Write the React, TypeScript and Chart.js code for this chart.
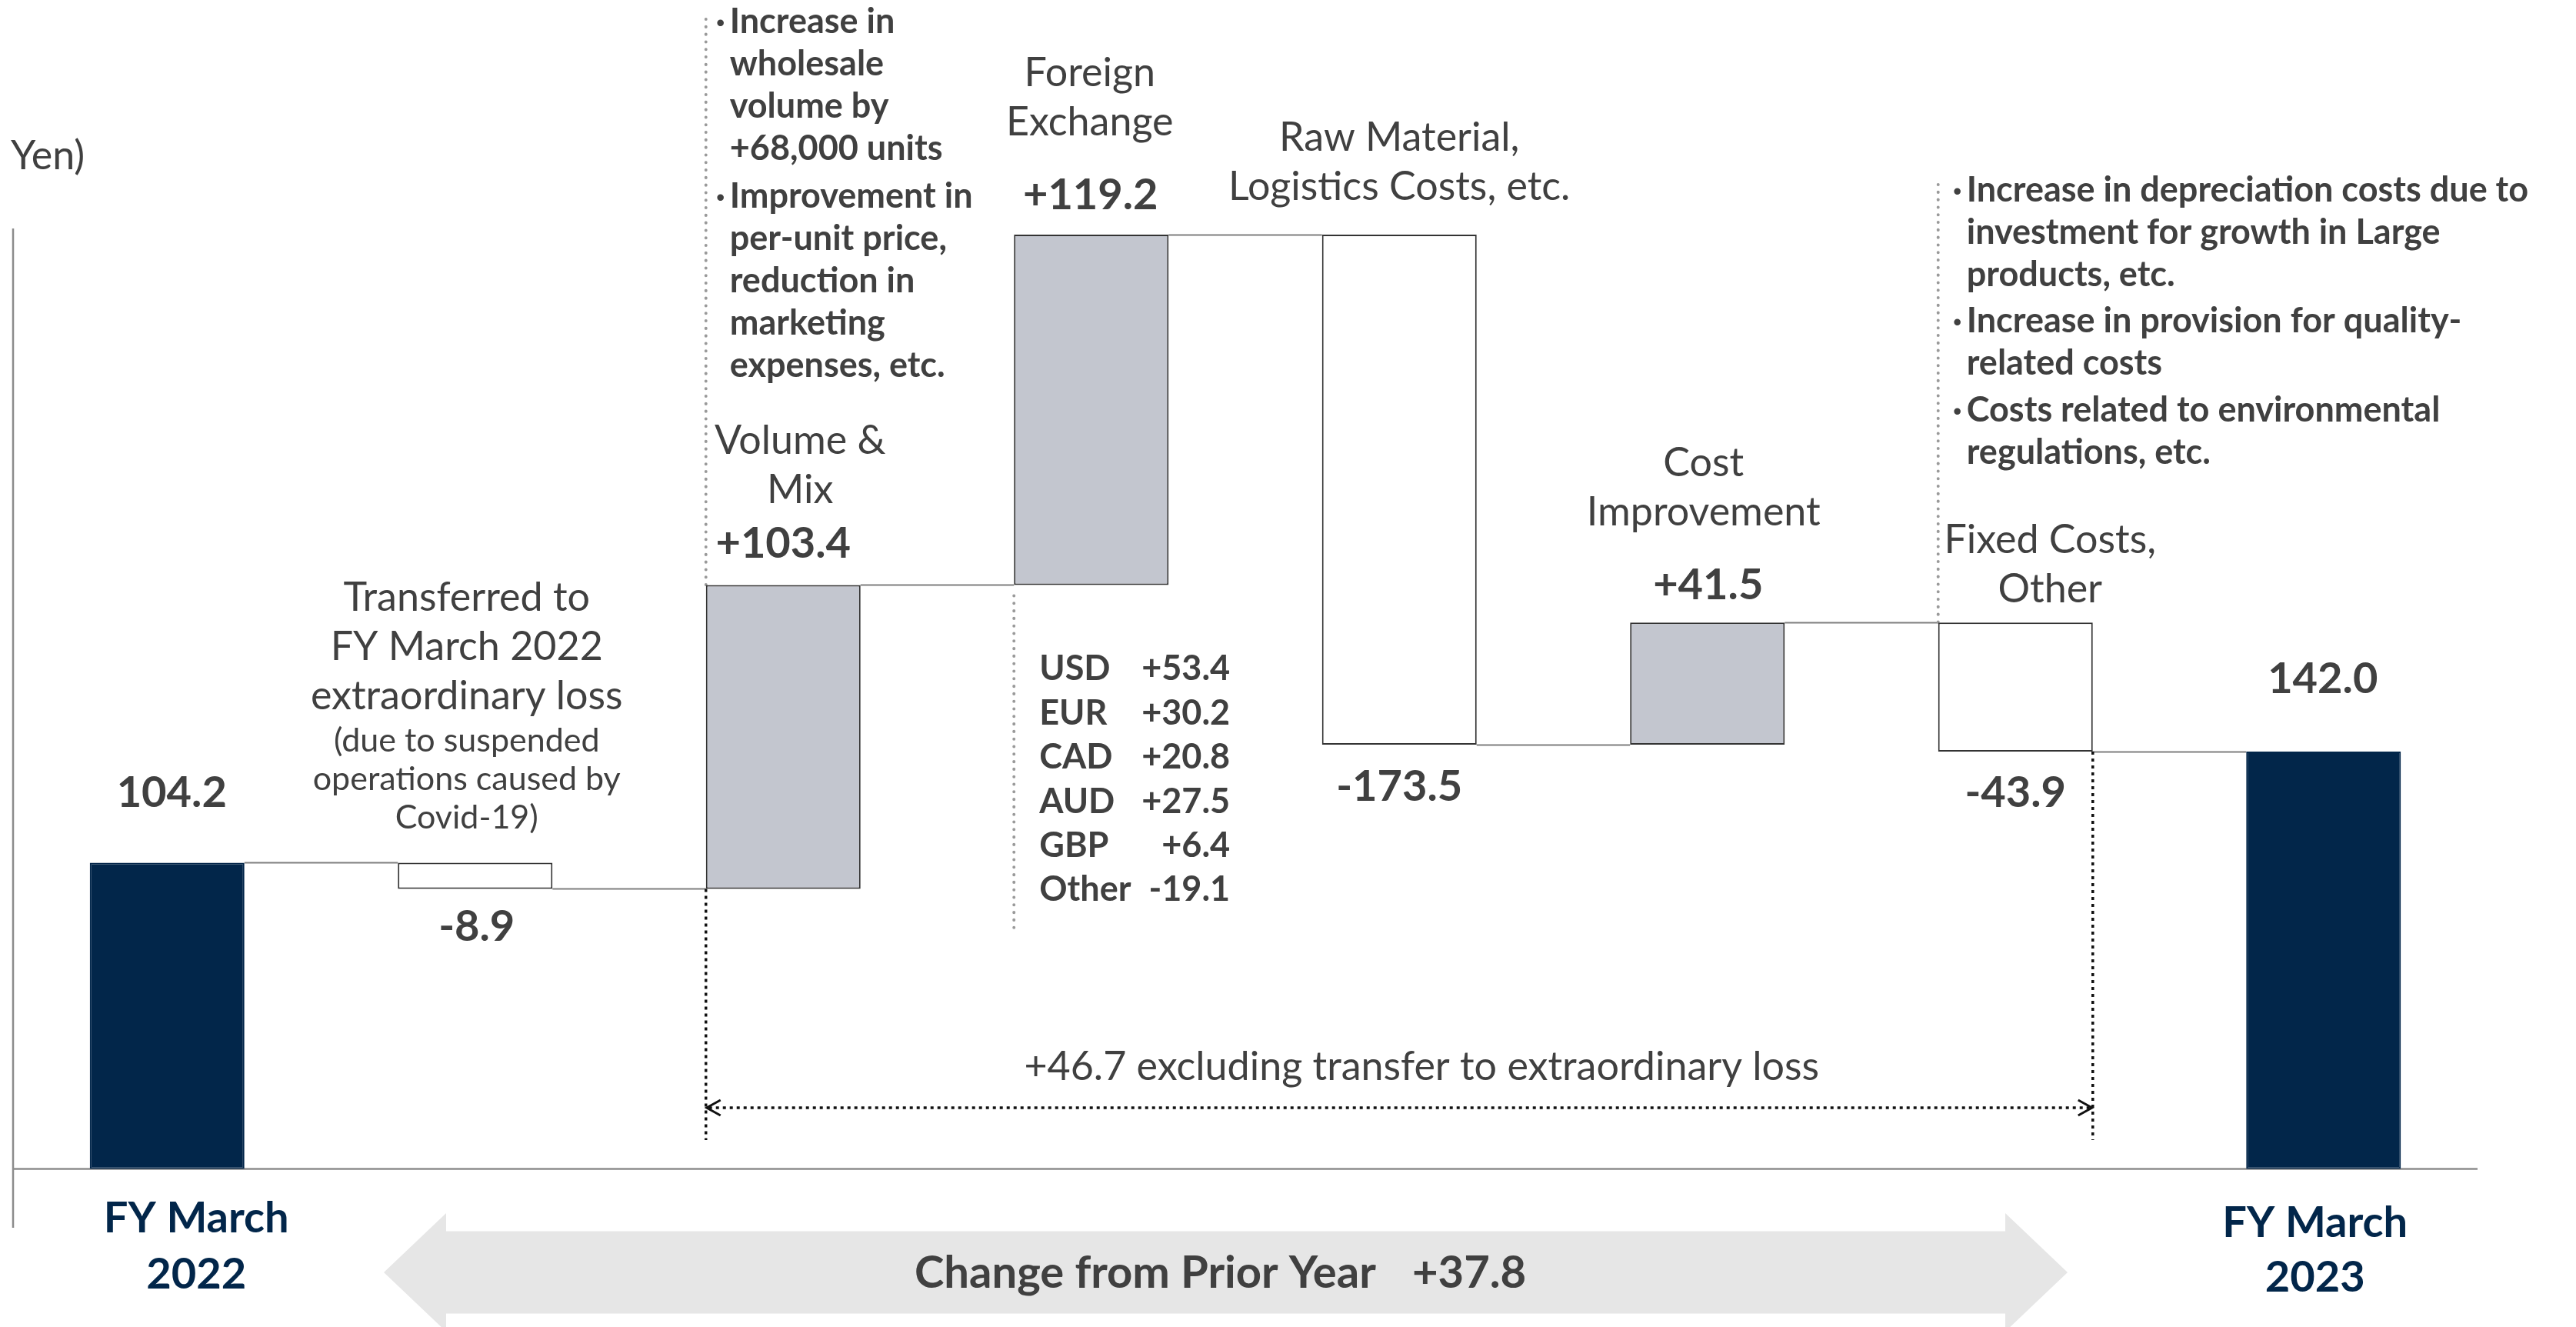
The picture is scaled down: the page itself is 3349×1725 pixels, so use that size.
import React, { useEffect, useRef } from "react";
import { Chart, registerables } from "chart.js";
Chart.register(...registerables);

// ---------- data ----------
const categories = [
  "FY March 2022",
  "Transferred to FY March 2022 extraordinary loss",
  "Volume & Mix",
  "Foreign Exchange",
  "Raw Material, Logistics Costs, etc.",
  "Cost Improvement",
  "Fixed Costs, Other",
  "FY March 2023",
];
const changes = [104.2, -8.9, 103.4, 119.2, -173.5, 41.5, -43.9, 142.0];
const isTotal = [true, false, false, false, false, false, false, true];

const headerLines: string[][] = [
  [],
  ["Transferred to", "FY March 2022", "extraordinary loss"],
  ["Volume &", "Mix"],
  ["Foreign", "Exchange"],
  ["Raw Material,", "Logistics Costs, etc."],
  ["Cost", "Improvement"],
  ["Fixed Costs,", "Other"],
  [],
];
const transferNote = ["(due to suspended", "operations caused by", "Covid-19)"];
const volumeBullets = [
  ["Increase in", "wholesale", "volume by", "+68,000 units"],
  ["Improvement in", "per-unit price,", "reduction in", "marketing", "expenses, etc."],
];
const fixedBullets = [
  ["Increase in depreciation costs due to", "investment for growth in Large", "products, etc."],
  ["Increase in provision for quality-", "related costs"],
  ["Costs related to environmental", "regulations, etc."],
];
const fxCurrencies = ["USD", "EUR", "CAD", "AUD", "GBP", "Other"];
const fxImpacts = [53.4, 30.2, 20.8, 27.5, 6.4, -19.1];
const xTickLabels = [["FY March", "2022"], ["FY March", "2023"]];
const unitLabel = "Yen)";
const excludingNote = "+46.7 excluding transfer to extraordinary loss";
const changeNoteText = "Change from Prior Year";
const changeNoteValue = 37.8;

// ---------- helpers ----------
const FONT = "Lato, 'Noto Sans', sans-serif";
const TEXT = "#404040";
const NAVY = "#02264a";

const fmtSigned = (v: number) => (v > 0 ? "+" : v < 0 ? "-" : "") + Math.abs(v).toFixed(1);

let cum = 0;
const floating: [number, number][] = changes.map((d, i) => {
  if (isTotal[i]) {
    cum = d;
    return [0, d];
  }
  const s = cum;
  cum = +(cum + d).toFixed(1);
  return [s, cum];
});
const valueLabels = changes.map((v, i) => (isTotal[i] ? v.toFixed(1) : fmtSigned(v)));

const bg = changes.map((v, i) => (isTotal[i] ? NAVY : v >= 0 ? "#c3c6cf" : "#ffffff"));
const bd = changes.map((v, i) => (isTotal[i] ? NAVY : "#333333"));

function text(ctx: CanvasRenderingContext2D, s: string, x: number, y: number, font: string, color: string, align: CanvasTextAlign = "center") {
  ctx.font = font;
  ctx.fillStyle = color;
  ctx.textAlign = align;
  ctx.textBaseline = "alphabetic";
  ctx.fillText(s, x, y);
}

function vline(ctx: CanvasRenderingContext2D, x: number, y1: number, y2: number, kind: "gray" | "black") {
  ctx.save();
  ctx.beginPath();
  if (kind === "gray") {
    ctx.strokeStyle = "#9a9a9a";
    ctx.lineWidth = 4;
    ctx.lineCap = "round";
    ctx.setLineDash([0.1, 9.7]);
  } else {
    ctx.strokeStyle = "#111111";
    ctx.lineWidth = 3.5;
    ctx.lineCap = "butt";
    ctx.setLineDash([4, 5]);
  }
  ctx.moveTo(x, y1);
  ctx.lineTo(x, y2);
  ctx.stroke();
  ctx.restore();
}

const labelGap = [72, 68, 35, 33, 73, 30, 72, 76];
const labelDx = [6, 2, 0, -1, 0, 1, 0, -1];
const headerPos = [null, { dx: -11, base: -327 }, { dx: 22, base: -170 }, { dx: -2, base: -193 }, { dx: 0, base: -109 }, { dx: -5, base: -190 }, { dx: 45, base: -90 }, null];

function barBoxes(chart: any) {
  const meta = chart.getDatasetMeta(0);
  return meta.data.map((el: any) => {
    const p = el.getProps(["x", "y", "base", "width"], true);
    return { cx: p.x, left: p.x - p.width / 2, right: p.x + p.width / 2, top: Math.min(p.y, p.base), bottom: Math.max(p.y, p.base) };
  });
}

const decor = {
  id: "decor",
  beforeDatasetsDraw(chart: any) {
    const ctx: CanvasRenderingContext2D = chart.ctx;
    const area = chart.chartArea;
    const ys = chart.scales.y;
    const bars = barBoxes(chart);
    ctx.save();
    // axes
    ctx.strokeStyle = "#8c8c8c";
    ctx.lineWidth = 2.5;
    ctx.beginPath();
    ctx.moveTo(area.left, area.top);
    ctx.lineTo(area.left, area.bottom);
    ctx.stroke();
    const y0 = ys.getPixelForValue(0);
    ctx.beginPath();
    ctx.moveTo(area.left, y0);
    ctx.lineTo(area.right, y0);
    ctx.stroke();
    // connectors
    ctx.strokeStyle = "#7f7f7f";
    ctx.lineWidth = 2;
    for (let i = 0; i < bars.length - 1; i++) {
      const py = Math.round(ys.getPixelForValue(floating[i][1])) + 0.5;
      ctx.beginPath();
      ctx.moveTo(bars[i].right, py);
      ctx.lineTo(bars[i + 1].left, py);
      ctx.stroke();
    }
    ctx.restore();

    // dotted guide lines
    vline(ctx, bars[2].left, 25, bars[2].top, "gray");
    vline(ctx, bars[3].left, bars[3].bottom + 14, 1210, "gray");
    vline(ctx, bars[6].left, 240, bars[6].top, "gray");
    vline(ctx, bars[2].left, bars[2].bottom, 1482, "black");
    vline(ctx, bars[6].right, bars[6].bottom, 1482, "black");

    // horizontal dotted double arrow
    const ay = 1440;
    const ax1 = bars[2].left, ax2 = bars[6].right;
    ctx.save();
    ctx.strokeStyle = "#111111";
    ctx.lineWidth = 3.5;
    ctx.setLineDash([4, 5]);
    ctx.beginPath();
    ctx.moveTo(ax1 + 4, ay);
    ctx.lineTo(ax2 - 4, ay);
    ctx.stroke();
    ctx.setLineDash([]);
    ctx.lineWidth = 3;
    ctx.beginPath();
    ctx.moveTo(ax1 + 19, ay - 10);
    ctx.lineTo(ax1 + 1, ay);
    ctx.lineTo(ax1 + 19, ay + 10);
    ctx.moveTo(ax2 - 19, ay - 10);
    ctx.lineTo(ax2 - 1, ay);
    ctx.lineTo(ax2 - 19, ay + 10);
    ctx.stroke();
    ctx.restore();
  },
  afterDraw(chart: any) {
    const ctx: CanvasRenderingContext2D = chart.ctx;
    const ys = chart.scales.y;
    const bars = barBoxes(chart);
    const y0 = ys.getPixelForValue(0);
    ctx.save();

    // unit label
    text(ctx, unitLabel, 14, 220, `52px ${FONT}`, TEXT, "left");

    // value labels
    bars.forEach((b: any, i: number) => {
      const up = isTotal[i] || changes[i] >= 0;
      const yy = up ? b.top - labelGap[i] : b.bottom + labelGap[i];
      text(ctx, valueLabels[i], b.cx + labelDx[i], yy, `bold 56px ${FONT}`, TEXT);
    });

    // headers
    bars.forEach((b: any, i: number) => {
      const hp = headerPos[i];
      if (!hp) return;
      headerLines[i].forEach((s, k) => {
        text(ctx, s, b.cx + hp.dx, b.top + hp.base + k * 64, `52px ${FONT}`, TEXT);
      });
    });
    // transfer note
    transferNote.forEach((s, k) => {
      text(ctx, s, bars[1].cx - 11, bars[1].top - 144 + k * 50, `43px ${FONT}`, TEXT);
    });

    // bullets
    const drawBullets = (groups: string[][], left: number, starts: number[]) => {
      groups.forEach((g, gi) => {
        g.forEach((s, k) => {
          const by = starts[gi] + k * 55;
          if (k === 0) text(ctx, "·", left - 12, by, `bold 45px ${FONT}`, TEXT);
          text(ctx, s, left, by, `bold 45px ${FONT}`, TEXT, "left");
        });
      });
    };
    drawBullets(volumeBullets, bars[2].left + 31, [43, 270]);
    drawBullets(fixedBullets, bars[6].left + 37, [262, 432, 548]);

    // currency table
    fxCurrencies.forEach((c, k) => {
      const by = bars[3].bottom + 124 + k * 57.4;
      text(ctx, c, bars[3].left + 33, by, `bold 45px ${FONT}`, TEXT, "left");
      text(ctx, fmtSigned(fxImpacts[k]), bars[3].left + 281, by, `bold 45px ${FONT}`, TEXT, "right");
    });

    // x tick labels (first and last)
    const tickFont = `bold 56px ${FONT}`;
    text(ctx, xTickLabels[0][0], bars[0].cx + 38, y0 + 82, tickFont, NAVY);
    text(ctx, xTickLabels[0][1], bars[0].cx + 38, y0 + 155, tickFont, NAVY);
    const l = bars.length - 1;
    text(ctx, xTickLabels[1][0], bars[l].cx - 11, y0 + 88, tickFont, NAVY);
    text(ctx, xTickLabels[1][1], bars[l].cx - 11, y0 + 159, tickFont, NAVY);

    // excluding note
    text(ctx, excludingNote, (bars[2].left + bars[6].right) / 2 + 29, 1404, `52px ${FONT}`, TEXT);

    // big double arrow
    const lt = 499, rt = 2688, hl = 81, cy = 1654, bh = 53.5, hh = 77;
    ctx.fillStyle = "#e6e6e6";
    ctx.beginPath();
    ctx.moveTo(lt, cy);
    ctx.lineTo(lt + hl, cy - hh);
    ctx.lineTo(lt + hl, cy - bh);
    ctx.lineTo(rt - hl, cy - bh);
    ctx.lineTo(rt - hl, cy - hh);
    ctx.lineTo(rt, cy);
    ctx.lineTo(rt - hl, cy + hh);
    ctx.lineTo(rt - hl, cy + bh);
    ctx.lineTo(lt + hl, cy + bh);
    ctx.lineTo(lt + hl, cy + hh);
    ctx.closePath();
    ctx.fill();
    const noteFont = `bold 58px ${FONT}`;
    ctx.font = noteFont;
    const w1 = ctx.measureText(changeNoteText).width;
    text(ctx, changeNoteText, 1189, 1674, noteFont, TEXT, "left");
    text(ctx, fmtSigned(changeNoteValue), 1189 + w1 + 47, 1674, noteFont, TEXT, "left");

    ctx.restore();
  },
};

export default function App() {
  const ref = useRef<HTMLCanvasElement | null>(null);
  useEffect(() => {
    if (!ref.current) return;
    const chart = new Chart(ref.current, {
      type: "bar",
      data: {
        labels: categories,
        datasets: [
          {
            data: floating as any,
            backgroundColor: bg,
            borderColor: bd,
            borderWidth: 2,
            borderSkipped: false,
            categoryPercentage: 1,
            barPercentage: 0.502,
          },
        ],
      },
      options: {
        responsive: false,
        animation: false,
        layout: { padding: { left: 17, right: 128, top: 297, bottom: 129 } },
        scales: {
          x: { display: false },
          y: { display: false, min: -20, max: 320 },
        },
        plugins: { legend: { display: false }, tooltip: { enabled: false } },
      },
      plugins: [decor],
    });
    return () => chart.destroy();
  }, []);
  return (
    <div style={{ position: "absolute", left: 0, top: 0, width: 3349, height: 1725, background: "#ffffff" }}>
      <canvas ref={ref} width={3349} height={1725} style={{ display: "block" }} />
    </div>
  );
}
